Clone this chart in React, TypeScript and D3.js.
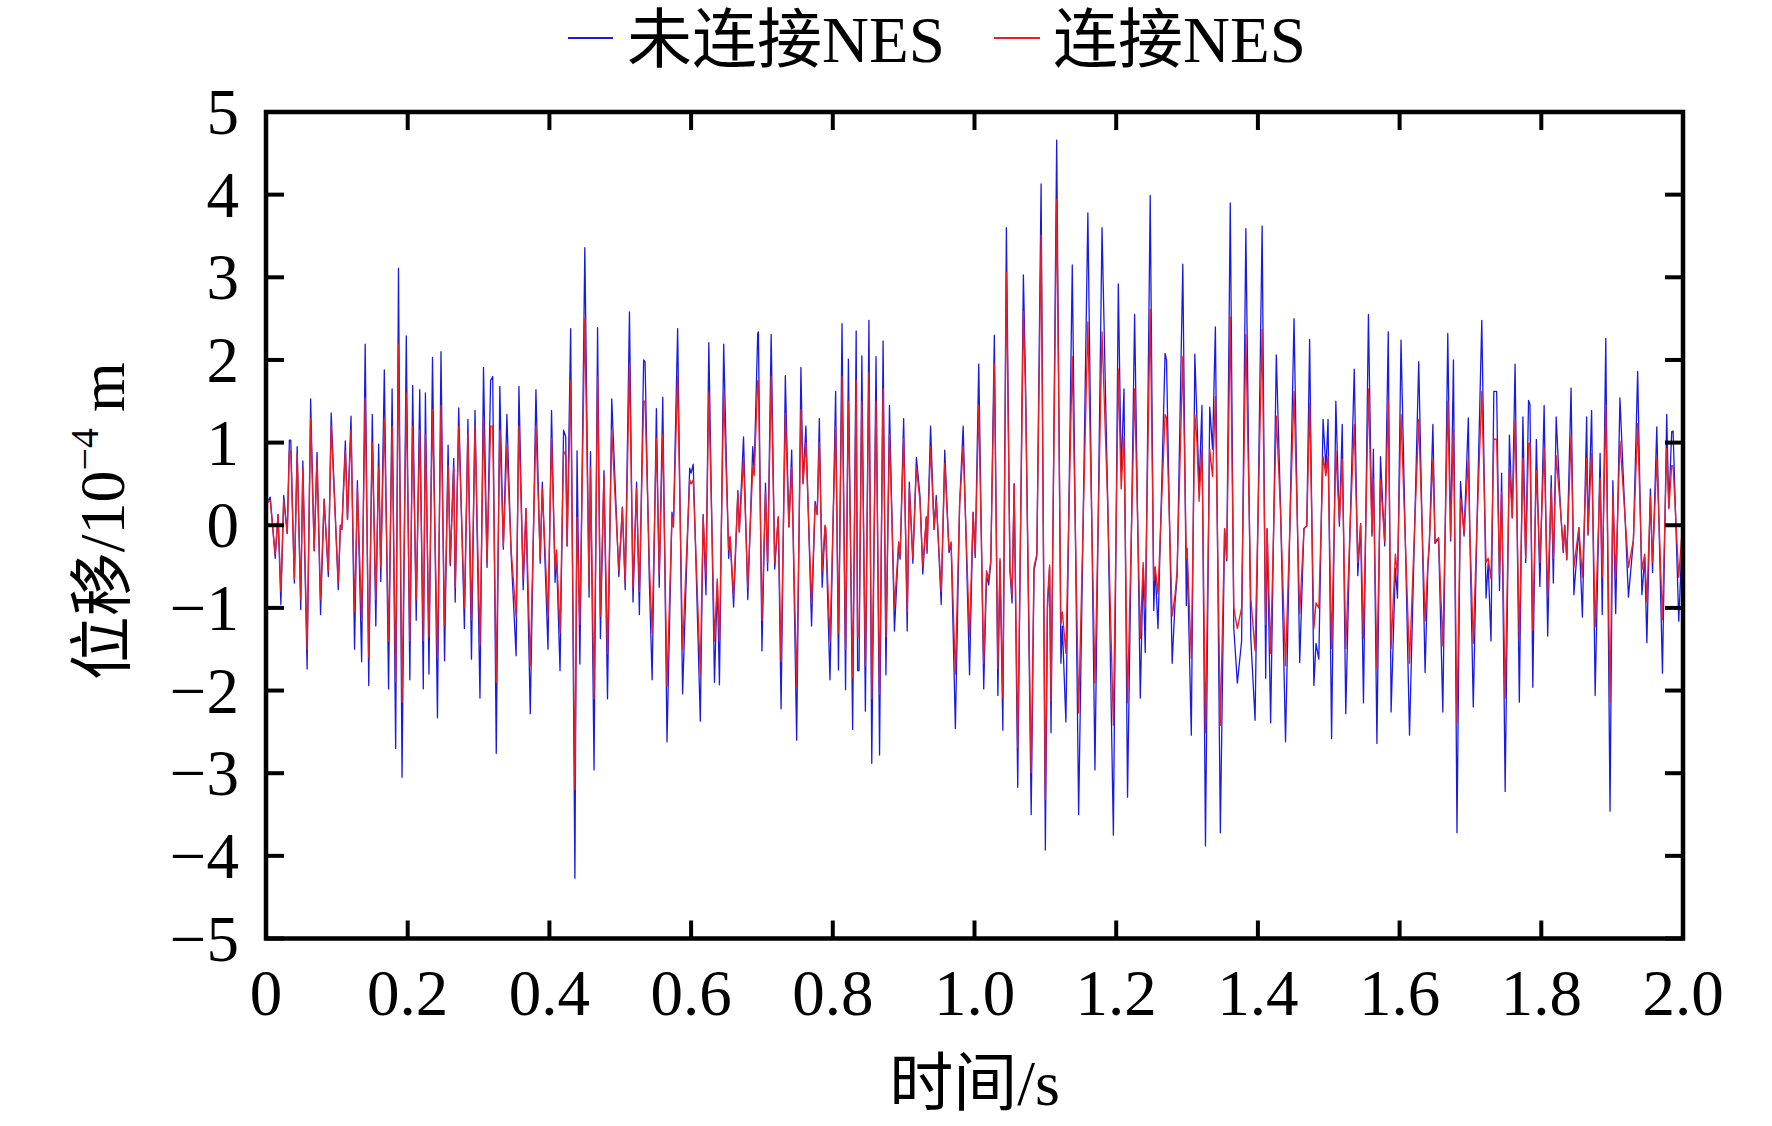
import React from "react";
import * as d3 from "d3";

// ---- data ----
const timeSec: number[] = [
  // 0 - 0.25 s
  0, 0.003, 0.006, 0.013, 0.017, 0.021, 0.025, 0.030, 0.033, 0.035,
  0.040, 0.044, 0.049, 0.052, 0.058, 0.063, 0.068, 0.072, 0.077, 0.082,
  0.088, 0.092, 0.102, 0.105, 0.107, 0.112, 0.115, 0.120, 0.125, 0.129,
  0.135, 0.140, 0.145, 0.150, 0.155, 0.159, 0.162, 0.167, 0.173, 0.178,
  0.183, 0.187, 0.192, 0.198, 0.203, 0.207, 0.212, 0.217, 0.222, 0.225,
  0.230, 0.235, 0.242, 0.247, 0.252,
  // 0.25 - 0.5 s
  0.257, 0.260, 0.265, 0.267, 0.272, 0.280, 0.285, 0.290, 0.295, 0.302,
  0.307, 0.312, 0.317, 0.320, 0.325, 0.330, 0.335, 0.340, 0.346, 0.353,
  0.357, 0.363, 0.367, 0.373, 0.381, 0.387, 0.390, 0.398, 0.403, 0.408,
  0.410, 0.415, 0.420, 0.423, 0.425, 0.430, 0.436, 0.439, 0.443, 0.450,
  0.456, 0.458, 0.463, 0.468, 0.472, 0.477, 0.482, 0.488, 0.498, 0.503,
  // 0.5 - 0.75 s
  0.507, 0.513, 0.518, 0.523, 0.527, 0.533, 0.535, 0.541, 0.545, 0.551,
  0.555, 0.560, 0.566, 0.573, 0.575, 0.581, 0.588, 0.598, 0.600, 0.603,
  0.613, 0.617, 0.621, 0.625, 0.633, 0.637, 0.640, 0.646, 0.653, 0.655,
  0.660, 0.666, 0.668, 0.674, 0.680, 0.687, 0.689, 0.694, 0.695, 0.700,
  0.705, 0.708, 0.713, 0.718, 0.723, 0.727, 0.733, 0.738, 0.742, 0.749,
  0.755,
  // 0.75 - 1.0 s
  0.758, 0.762, 0.770, 0.775, 0.778, 0.781, 0.785, 0.789, 0.790, 0.796,
  0.804, 0.808, 0.813, 0.818, 0.822, 0.828, 0.833, 0.835, 0.837, 0.841,
  0.846, 0.851, 0.855, 0.861, 0.866, 0.871, 0.875, 0.880, 0.887, 0.893,
  0.895, 0.900, 0.905, 0.908, 0.913, 0.918, 0.923, 0.927, 0.932, 0.933,
  0.938, 0.943, 0.946, 0.953, 0.958, 0.964, 0.967, 0.973, 0.979, 0.984,
  0.993, 0.998, 1.001, 1.006,
  // 1.0 - 1.25 s
  1.013, 1.017, 1.020, 1.023, 1.028, 1.033, 1.036, 1.040, 1.045, 1.050,
  1.053, 1.056, 1.061, 1.069, 1.072, 1.080, 1.084, 1.088, 1.094, 1.100,
  1.103, 1.106, 1.108, 1.116, 1.122, 1.124, 1.129, 1.138, 1.147, 1.160,
  1.170, 1.180, 1.188, 1.196, 1.203, 1.207, 1.211, 1.216, 1.226, 1.234,
  1.238, 1.241, 1.248, 1.253, 1.255, 1.259,
  // 1.25 - 1.5 s
  1.269, 1.271, 1.279, 1.283, 1.286, 1.294, 1.299, 1.300, 1.306, 1.311,
  1.314, 1.317, 1.321, 1.326, 1.332, 1.336, 1.340, 1.347, 1.353, 1.356,
  1.361, 1.366, 1.371, 1.377, 1.383, 1.390, 1.396, 1.406, 1.411, 1.413,
  1.418, 1.426, 1.432, 1.439, 1.451, 1.459, 1.465, 1.469, 1.473, 1.479,
  1.482, 1.486, 1.492, 1.496, 1.499, 1.504,
  // 1.5 - 1.75 s
  1.510, 1.515, 1.519, 1.524, 1.530, 1.536, 1.541, 1.545, 1.549, 1.556,
  1.561, 1.563, 1.568, 1.573, 1.579, 1.584, 1.588, 1.594, 1.597, 1.602,
  1.614, 1.627, 1.636, 1.640, 1.642, 1.647, 1.650, 1.655, 1.661, 1.668,
  1.672, 1.676, 1.681, 1.686, 1.691, 1.697, 1.699, 1.704, 1.709, 1.716,
  1.722, 1.725, 1.729, 1.733, 1.737, 1.741, 1.744, 1.749, 1.755, 1.759,
  1.763,
  // 1.75 - 2.0 s
  1.769, 1.774, 1.778, 1.782, 1.784, 1.788, 1.793, 1.798, 1.804, 1.809,
  1.814, 1.817, 1.821, 1.827, 1.831, 1.833, 1.836, 1.842, 1.846, 1.853,
  1.858, 1.864, 1.866, 1.871, 1.876, 1.883, 1.886, 1.891, 1.897, 1.901,
  1.905, 1.911, 1.923, 1.930, 1.936, 1.942, 1.946, 1.949, 1.954, 1.957,
  1.963, 1.971, 1.977, 1.980, 1.984, 1.986, 1.994, 2.000,
];

// 未连接NES (blue), displacement in 1e-4 m
const dispWithoutNES: number[] = [
  0.25, 0.30, 0.34, -0.40, 0.13, -0.96, 0.36, -0.10, 1.03, 1.03,
  -0.70, 0.95, -1.02, 0.78, -1.74, 1.53, -0.31, 0.88, -1.08, 0.32,
  -0.62, 1.36, -0.78, 0.00, -0.05, 1.02, 0.07, 1.32, -1.50, 0.54,
  -1.65, 2.19, -1.94, 1.34, -1.22, 0.98, -0.68, 1.88, -1.98, 1.65,
  -2.70, 3.11, -3.05, 2.29, -1.87, 1.69, -1.15, 1.64, -1.98, 1.60,
  -1.80, 2.03, -2.33, 2.10, -1.64,

  0.97, -0.49, 0.81, -0.93, 1.42, -1.25, 1.28, -1.62, 1.39, -2.09,
  1.91, -0.51, 1.75, 1.80, -2.76, 1.68, -0.29, 1.34, -0.35, -1.58,
  1.68, -0.78, 0.20, -2.28, 1.64, -0.46, 0.52, -1.50, 1.39, -0.69,
  -0.35, -1.76, 1.15, 1.07, -0.25, 2.38, -4.27, 0.90, -1.68, 3.36,
  -0.87, 0.89, -2.96, 2.39, -1.37, 0.66, -2.10, 1.53, -0.62, 0.22,

  -0.78, 2.58, -0.93, 0.52, -1.08, 2.00, 1.98, -0.66, -1.87, 1.41,
  -0.75, 1.55, -2.62, 0.16, -0.02, 2.38, -2.04, 0.69, 0.63, 0.74,
  -2.37, 0.13, -0.84, 2.21, -1.90, -0.68, -1.93, 2.19, -0.40, -0.14,
  -0.99, 0.42, -0.08, 1.07, -0.90, 0.95, 0.66, 2.32, 2.34, -1.52,
  0.51, -0.55, 2.31, -0.53, 0.10, -2.22, 1.81, -0.02, 0.91, -2.60,
  1.91,

  0.51, 1.20, -1.22, 0.29, 0.13, 1.29, -0.75, -0.02, -0.05, -1.87,
  1.62, -1.75, 2.44, -1.99, 2.01, -2.47, 2.35, -1.76, -1.76, 2.05,
  -2.25, 2.48, -2.88, 2.04, -2.78, 2.23, -1.81, 1.45, -1.28, -0.22,
  -0.41, 1.29, -1.28, 0.52, -0.46, 0.82, 0.36, -0.59, 0.10, -0.34,
  1.20, -0.05, 0.36, -0.96, 0.91, -0.33, -0.22, -2.46, 0.25, 1.20,
  -1.81, 0.16, -0.39, 1.95,

  -1.98, -0.61, -0.72, -0.46, 2.30, -2.06, -0.43, -2.48, 3.60, -0.55,
  -0.94, 0.50, -3.17, 3.03, 1.77, -3.50, -0.55, -0.37, 4.13, -3.93,
  -1.00, -0.51, -2.51, 4.66, -1.67, -1.22, -2.38, 3.15, -3.50, 3.78,
  -2.96, 3.60, 0.32, -3.75, 2.92, 0.65, 1.65, -3.29, 2.55, -2.09,
  -0.52, -1.54, 3.99, -1.03, -0.52, -1.25,

  2.08, 2.00, -1.67, -0.94, -0.61, 3.16, -0.97, -0.28, -2.54, 2.07,
  1.28, 0.44, 1.45, -3.88, 1.43, 0.92, 2.40, -3.72, -0.04, -0.43,
  3.90, -1.25, -1.91, -1.40, 3.59, -1.37, -2.36, 3.62, -1.85, -0.04,
  -2.39, 2.06, 0.20, -2.62, 2.50, -1.66, -0.04, -0.01, 2.25, -1.94,
  -1.43, -1.62, 1.28, 0.68, 1.28, -2.58,

  1.50, -0.01, 1.22, -2.28, -0.07, 1.89, -0.61, 0.02, -2.15, 2.55,
  -0.13, 0.92, -2.64, 0.83, -0.25, 2.34, -2.26, -0.52, -0.88, 2.24,
  -2.54, 1.98, -1.78, -0.49, -0.22, 1.22, -0.22, -0.16, -2.26, 2.32,
  -0.19, 2.00, -3.72, 0.53, -0.13, 1.30, -0.04, -2.20, -0.07, 2.48,
  -0.88, -0.46, -1.40, 1.62, 1.62, -0.79, 0.63, -3.22, 1.09, 0.09,
  1.95,

  -2.14, 1.31, -0.45, 1.51, 1.46, -1.96, 1.04, -0.74, 1.45, -1.34,
  0.60, -0.70, 1.31, 0.21, -0.33, 0.00, -0.42, 1.66, -0.84, -0.03,
  -1.11, 1.31, -0.12, 1.39, -2.06, 0.87, -1.08, 2.26, -3.46, 0.54,
  -1.07, 1.54, -0.87, -0.18, 1.86, -0.84, -0.39, -1.42, 0.44, -0.57,
  1.19, -1.79, 1.34, 0.21, 1.13, 1.14, -1.16, 0.09,
];

// 连接NES (red), displacement in 1e-4 m
const dispWithNES: number[] = [
  0.25, 0.28, 0.30, -0.35, 0.13, -0.80, 0.30, -0.10, 0.90, 0.90,
  -0.65, 0.85, -0.90, 0.70, -1.50, 1.30, -0.30, 0.80, -0.90, 0.30,
  -0.55, 1.20, -0.70, 0.00, -0.05, 0.90, 0.07, 1.15, -1.05, 0.45,
  -1.15, 1.54, -1.60, 1.00, -0.90, 0.70, -0.50, 1.30, -1.40, 1.20,
  -1.90, 2.19, -2.14, 1.60, -1.40, 1.20, -0.90, 1.15, -1.40, 1.10,
  -1.35, 1.40, -1.60, 1.45, -1.20,

  0.72, -0.45, 0.70, -0.75, 1.20, -1.00, 1.10, -1.15, 1.20, -1.45,
  1.30, -0.45, 1.20, 1.20, -1.90, 1.15, -0.25, 0.95, -0.30, -1.10,
  1.20, -0.65, 0.20, -1.70, 1.20, -0.40, 0.45, -1.10, 1.05, -0.55,
  -0.30, -1.30, 0.90, 0.85, -0.25, 1.75, -3.20, 0.10, -1.20, 2.50,
  -0.75, 0.70, -2.10, 1.80, -1.10, 0.60, -1.55, 1.15, -0.55, 0.20,

  -0.70, 1.95, -0.75, 0.45, -0.80, 1.50, 1.50, -0.45, -1.30, 1.05,
  -0.60, 1.10, -1.95, 0.10, -0.02, 1.80, -1.50, 0.55, 0.50, 0.55,
  -1.80, 0.10, -0.60, 1.60, -1.40, -0.65, -1.40, 1.60, -0.30, -0.14,
  -0.85, 0.40, -0.08, 0.80, -0.75, 0.70, 0.60, 1.75, 1.75, -1.15,
  0.40, -0.45, 1.80, -0.45, 0.10, -1.65, 1.35, -0.02, 0.70, -1.95,
  1.40,

  0.50, 1.00, -0.95, 0.25, 0.13, 1.00, -0.55, 0.00, -0.03, -1.40,
  1.20, -1.30, 1.80, -1.50, 1.50, -1.85, 1.75, -1.35, -1.35, 1.50,
  -1.70, 1.85, -2.10, 1.50, -2.05, 1.65, -1.35, 1.10, -1.00, -0.20,
  -0.38, 1.05, -1.05, 0.45, -0.40, 0.70, 0.30, -0.50, 0.10, -0.30,
  0.95, -0.05, 0.30, -0.80, 0.75, -0.30, -0.20, -1.80, 0.25, 0.95,
  -1.35, 0.15, -0.35, 1.45,

  -1.67, -0.55, -0.65, -0.42, 1.95, -1.73, -0.40, -2.09, 3.06, -0.50,
  -0.85, 0.50, -2.69, 2.58, 1.60, -2.99, -0.50, -0.35, 3.51, -3.32,
  -0.90, -0.48, -2.12, 3.94, -1.19, -1.05, -1.55, 2.04, -2.27, 2.46,
  -1.91, 2.34, 0.25, -2.42, 1.89, 0.44, 1.07, -2.15, 1.65, -1.37,
  -0.45, -1.00, 2.61, -0.67, -0.50, -0.83,

  1.34, 1.30, -1.10, -0.85, -0.55, 2.04, -0.40, -0.28, -1.61, 1.34,
  1.00, 0.29, 0.92, -2.51, 0.92, 0.59, 1.56, -2.42, -0.04, -0.40,
  2.52, -1.00, -1.25, -1.00, 2.31, -0.88, -1.52, 2.37, -1.20, -0.04,
  -1.55, 1.32, 0.15, -1.70, 1.62, -1.07, -0.04, -0.01, 1.47, -1.25,
  -0.94, -1.00, 0.83, 0.60, 0.83, -1.49,

  0.90, 0.05, 0.80, -1.49, -0.05, 1.22, -0.45, 0.02, -1.37, 1.65,
  -0.10, 0.55, -1.73, 0.55, -0.20, 1.50, -1.49, -0.35, -0.60, 1.34,
  -1.67, 1.28, -1.16, -0.45, -0.20, 0.80, -0.20, -0.15, -1.46, 1.50,
  -0.15, 1.16, -2.39, 0.32, -0.10, 0.80, -0.04, -1.43, -0.05, 1.62,
  -0.45, -0.40, -0.65, 1.04, 1.04, -0.60, 0.40, -2.09, 0.70, 0.09,
  1.27,

  -1.39, 0.81, -0.40, 0.99, 0.99, -1.27, 0.66, -0.45, 0.93, -0.87,
  0.45, -0.40, 0.84, 0.20, -0.30, 0.00, -0.40, 1.08, -0.51, -0.03,
  -0.63, 0.81, -0.10, 0.87, -1.23, 0.57, -0.63, 1.45, -2.14, 0.36,
  -0.63, 1.02, -0.51, -0.18, 1.23, -0.54, -0.35, -0.93, 0.35, -0.45,
  0.81, -1.14, 0.93, 0.20, 0.72, 0.72, -0.63, 0.09,
];

const xTicks: number[] = [0, 0.2, 0.4, 0.6, 0.8, 1.0, 1.2, 1.4, 1.6, 1.8, 2.0];
const xTickLabels: string[] = ["0", "0.2", "0.4", "0.6", "0.8", "1.0", "1.2", "1.4", "1.6", "1.8", "2.0"];
const yTicks: number[] = [-5, -4, -3, -2, -1, 0, 1, 2, 3, 4, 5];
const yTickLabels: string[] = ["\u22125", "\u22124", "\u22123", "\u22122", "\u22121", "0", "1", "2", "3", "4", "5"];
const seriesNames: string[] = ["未连接NES", "连接NES"];
const seriesColors: string[] = ["#1a1ae6", "#ee1c24"];

// ---- layout ----
const W = 1772;
const H = 1126;
const PL = 266;
const PR = 1683;
const PT = 112;
const PB = 938.5;
const FONT = "'Liberation Serif', 'Times New Roman', 'Noto Sans CJK SC', serif";
const FS = 65;
const TICK = 18;

export default function App() {
  const x = d3.scaleLinear().domain([0, 2]).range([PL, PR]);
  const y = d3.scaleLinear().domain([-5, 5]).range([PB, PT]);
  const n = Math.min(timeSec.length, dispWithoutNES.length, dispWithNES.length);
  const line = d3
    .line<number>()
    .x((_, i) => x(timeSec[i]))
    .y((d) => y(d));
  const blueD = line(dispWithoutNES.slice(0, n)) || "";
  const redD = line(dispWithNES.slice(0, n)) || "";

  return (
    <svg
      width={W}
      height={H}
      viewBox={`0 0 ${W} ${H}`}
      style={{ position: "absolute", left: 0, top: 0, background: "#fff" }}
      fontFamily={FONT}
    >
      <rect x={0} y={0} width={W} height={H} fill="#fff" />
      <defs>
        <clipPath id="plotClip">
          <rect x={PL} y={PT} width={PR - PL} height={PB - PT} />
        </clipPath>
      </defs>

      {/* data lines */}
      <g clipPath="url(#plotClip)" fill="none" strokeLinejoin="round">
        <path d={blueD} stroke={seriesColors[0]} strokeWidth={1.3} />
        <path d={redD} stroke={seriesColors[1]} strokeWidth={1.35} />
      </g>

      {/* ticks (inward, all four sides) */}
      <g stroke="#000" strokeWidth={4}>
        {xTicks.map((t) => (
          <g key={"xt" + t}>
            <line x1={x(t)} x2={x(t)} y1={PB} y2={PB - TICK} />
            <line x1={x(t)} x2={x(t)} y1={PT} y2={PT + TICK} />
          </g>
        ))}
        {yTicks.map((v) => (
          <g key={"yt" + v}>
            <line x1={PL} x2={PL + TICK} y1={y(v)} y2={y(v)} />
            <line x1={PR} x2={PR - TICK} y1={y(v)} y2={y(v)} />
          </g>
        ))}
      </g>

      {/* frame */}
      <rect x={PL} y={PT} width={PR - PL} height={PB - PT} fill="none" stroke="#000" strokeWidth={4.5} />

      {/* tick labels */}
      <g fontSize={FS} fill="#000">
        {xTicks.map((t, i) => (
          <text key={"xl" + t} x={x(t)} y={PB + 76} textAnchor="middle">
            {xTickLabels[i]}
          </text>
        ))}
        {yTicks.map((v, i) => (
          <text key={"yl" + v} x={PL - 27} y={y(v) + 22} textAnchor="end">
            {yTickLabels[i]}
          </text>
        ))}
      </g>

      {/* axis titles */}
      <text x={(PL + PR) / 2} y={1105} textAnchor="middle" fontSize={64} fill="#000">
        时间/s
      </text>
      <text
        transform={`translate(124, ${(PT + PB) / 2 - 4}) rotate(-90)`}
        textAnchor="middle"
        fontSize={64}
        fill="#000"
      >
        位移/10
        <tspan fontSize={40} dy={-26}>
          {"\u22124"}
        </tspan>
        <tspan fontSize={64} dy={26}>
          {"\u00a0m"}
        </tspan>
      </text>

      {/* legend */}
      <g fontSize={65} fill="#000">
        <line x1={568} x2={613} y1={38} y2={38} stroke={seriesColors[0]} strokeWidth={1.8} />
        <text x={627} y={62}>
          {seriesNames[0]}
        </text>
        <line x1={994} x2={1040} y1={38} y2={38} stroke={seriesColors[1]} strokeWidth={1.8} />
        <text x={1053} y={62}>
          {seriesNames[1]}
        </text>
      </g>
    </svg>
  );
}
